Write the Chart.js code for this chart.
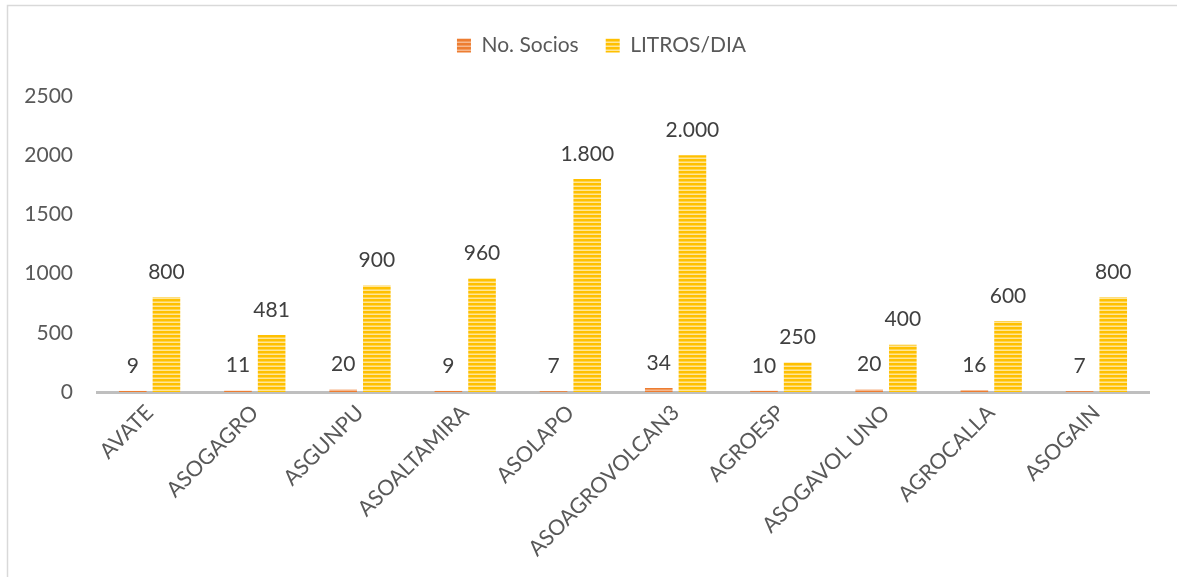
<!DOCTYPE html>
<html><head><meta charset="utf-8">
<script src="https://cdn.jsdelivr.net/npm/chart.js@4.4.0/dist/chart.umd.min.js"></script>
<style>html,body{margin:0;padding:0;background:#fff}canvas{display:block}</style>
</head><body>
<canvas id="c" width="1177" height="577"></canvas>
<script>
const categories = ['AVATE','ASOGAGRO','ASGUNPU','ASOALTAMIRA','ASOLAPO','ASOAGROVOLCAN3','AGROESP','ASOGAVOL UNO','AGROCALLA','ASOGAIN'];
const socios = [9, 11, 20, 9, 7, 34, 10, 20, 16, 7];
const litros = [800, 481, 900, 960, 1800, 2000, 250, 400, 600, 800];
const yTicks = [0, 500, 1000, 1500, 2000, 2500];
const seriesNames = ['No. Socios', 'LITROS/DIA'];

function stripe(base, mid, light) {
  const c = document.createElement('canvas'); c.width = 4; c.height = 4;
  const x = c.getContext('2d');
  x.fillStyle = base; x.fillRect(0, 0, 4, 4);
  x.fillStyle = mid; x.fillRect(0, 1, 4, 1);
  x.fillStyle = light; x.fillRect(0, 2, 4, 1);
  return x.createPattern(c, 'repeat');
}
const orangeFill = stripe('#ED7D31', '#F29A5E', '#F6B88E');
const yellowFill = stripe('#FFC000', '#FFD34D', '#FFE699');

const fmt = v => String(v).replace(/\B(?=(\d{3})+(?!\d))/g, '.');
const FONT = 'Lato';

const frame = {
  id: 'frame',
  beforeDraw(chart) {
    const ctx = chart.ctx; ctx.save();
    ctx.fillStyle = '#fff'; ctx.fillRect(0, 0, chart.width, chart.height);
    ctx.strokeStyle = '#D9D9D9'; ctx.lineWidth = 1.5;
    ctx.beginPath(); ctx.moveTo(7.5, chart.height); ctx.lineTo(7.5, 5.5); ctx.lineTo(chart.width, 5.5); ctx.stroke();
    ctx.restore();
  }
};
const legendFit = {
  id: 'legendFit',
  beforeLayout(chart) {
    const lg = chart.legend;
    if (lg && !lg._patched) {
      const f = lg.fit;
      lg.fit = function () { f.call(this); this.height = 88; };
      lg._patched = true;
    }
  },
  afterLayout(chart) {
    const lg = chart.legend;
    if (lg) { lg.left += 27; lg.right += 27; }
  }
};
const dataLabels = {
  id: 'dataLabels',
  afterDatasetsDraw(chart) {
    const ctx = chart.ctx; ctx.save();
    ctx.font = '21px ' + FONT; ctx.fillStyle = '#404040';
    ctx.textAlign = 'center'; ctx.textBaseline = 'middle';
    chart.data.datasets.forEach((ds, i) => {
      chart.getDatasetMeta(i).data.forEach((bar, j) => {
        ctx.fillText(fmt(ds.data[j]), bar.x, bar.y - 25);
      });
    });
    ctx.restore();
  }
};

new Chart(document.getElementById('c'), {
  type: 'bar',
  data: {
    labels: categories,
    datasets: [
      { label: seriesNames[0], data: socios, backgroundColor: orangeFill, borderWidth: 0, categoryPercentage: 0.64, barPercentage: 0.82 },
      { label: seriesNames[1], data: litros, backgroundColor: yellowFill, borderWidth: 0, categoryPercentage: 0.64, barPercentage: 0.82 }
    ]
  },
  options: {
    responsive: false,
    animation: false,
    layout: { padding: { top: 8, right: 28, left: 0, bottom: 0 } },
    plugins: {
      legend: {
        position: 'top',
        labels: { boxWidth: 14, boxHeight: 14, padding: 27, color: '#595959', font: { family: FONT, size: 21 } }
      },
      tooltip: { enabled: false }
    },
    scales: {
      x: {
        grid: { display: false, drawTicks: false },
        border: { display: true, color: '#BFBFBF', width: 3 },
        ticks: { autoSkip: false, minRotation: 45, maxRotation: 45, padding: 8, color: '#595959', font: { family: FONT, size: 21.5 } },
        afterFit(s) { s.height = 185; }
      },
      y: {
        min: 0, max: 2500,
        afterBuildTicks(s) { s.ticks = yTicks.map(v => ({ value: v })); },
        grid: { display: false, drawTicks: false },
        border: { display: false },
        ticks: { padding: 24, color: '#595959', font: { family: FONT, size: 21 }, callback: v => String(v) },
        afterFit(s) { s.width = 97; }
      }
    }
  },
  plugins: [frame, legendFit, dataLabels]
});
</script>
</body></html>
